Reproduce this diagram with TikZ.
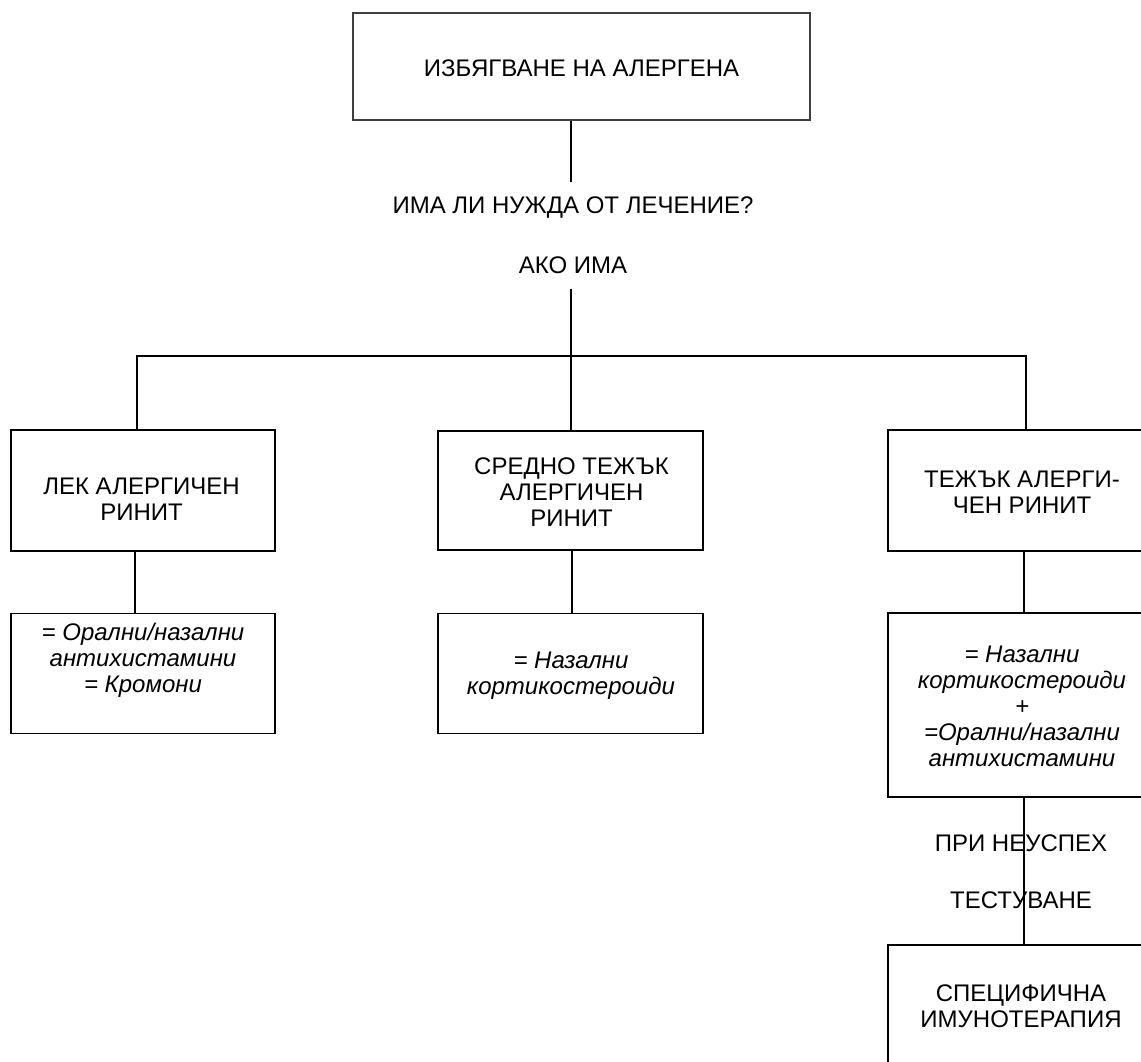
\documentclass[tikz,border=0pt]{standalone}
\usepackage{fontspec}
\setmainfont{Liberation Sans}
\begin{document}
\begin{tikzpicture}[x=1pt,y=-1pt,
  frame/.style={draw=black, line width=1.3pt, inner sep=0pt, minimum width=264pt},
  bigtxt/.style={font=\fontsize{24}{26}\selectfont, align=center, inner sep=0pt},
  smalltxt/.style={font=\fontsize{24}{26}\selectfont, align=center, inner sep=0pt},
  ittxt/.style={font=\fontsize{24}{26}\selectfont\itshape, align=center, inner sep=0pt},
  conn/.style={draw=black, line width=1.3pt}]
\useasboundingbox (0,0) rectangle (1141,1061);
% top box
\node[draw=black!75, line width=2.4pt, minimum width=457pt, minimum height=107pt, inner sep=0pt] (top) at (581.5,66.5) {};
\node[smalltxt] (toptxt) at (581.5,68) {ИЗБЯГВАНЕ НА АЛЕРГЕНА};
\node[smalltxt] (q) at (573,208) {ИМА ЛИ НУЖДА ОТ ЛЕЧЕНИЕ?};
\node[smalltxt] (ako) at (573,265) {АКО ИМА};
% coordinates
\coordinate (spine) at (571,0);
\coordinate (qend) at (571,182);
\coordinate (akoend) at (571,289);
\coordinate (split) at (571,356);
\coordinate (lx) at (137,0);
\coordinate (rx) at (1026,0);
\coordinate (lx2) at (135,0);
\coordinate (mx2) at (572,0);
\coordinate (rx2) at (1024,0);
% row 1
\node[frame, minimum height=121pt] (b1) at (143,490.5) {};
\node[frame, minimum height=119pt, minimum width=265pt] (b2) at (570.5,490.5) {};
\node[frame, minimum height=121pt, minimum width=266pt] (b3) at (1021,490.5) {};
\node[bigtxt] (t1) at (141.5,499.5) {ЛЕК АЛЕРГИЧЕН\\РИНИТ};
\node[bigtxt] (t2) at (571.5,492) {СРЕДНО ТЕЖЪК\\АЛЕРГИЧЕН\\РИНИТ};
\node[bigtxt] (t3) at (1022,492.5) {ТЕЖЪК АЛЕРГИ-\\ЧЕН РИНИТ};
% row 2
\node[frame, minimum height=120pt] (c1) at (143,673.5) {};
\node[frame, minimum height=120pt, minimum width=265pt] (c2) at (570.5,673.5) {};
\node[frame, minimum height=184pt, minimum width=266pt] (c3) at (1021,705) {};
\node[ittxt] (u1) at (143,660) {= Орални/назални\\антихистамини\\= Кромони};
\node[ittxt] (u2) at (571,675.5) {= Назални\\кортикостероиди};
\node[ittxt] (u3) at (1022,706) {= Назални\\кортикостероиди\\+\\=Орални/назални\\антихистамини};
% specific immunotherapy
\node[frame, minimum height=160pt, minimum width=266pt] (sp) at (1021,1025) {};
\node[bigtxt] (spt) at (1021,1006.5) {СПЕЦИФИЧНА\\ИМУНОТЕРАПИЯ};
\node[smalltxt] (fail) at (1021,843) {ПРИ НЕУСПЕХ};
\node[smalltxt] (test) at (1021,900) {ТЕСТУВАНЕ};
% connectors
\draw[conn] (top.south -| spine) -- (qend);
\draw[conn] (akoend) -- (split);
\draw[conn] (b1.north -| lx) |- (split) -| (b3.north -| rx);
\draw[conn] (split) -- (b2.north -| spine);
\draw[conn] (b1.south -| lx2) -- (c1.north -| lx2);
\draw[conn] (b2.south -| mx2) -- (c2.north -| mx2);
\draw[conn] (b3.south -| rx2) -- (c3.north -| rx2);
\draw[conn] (c3.south -| rx2) -- (sp.north -| rx2);
\end{tikzpicture}
\end{document}
